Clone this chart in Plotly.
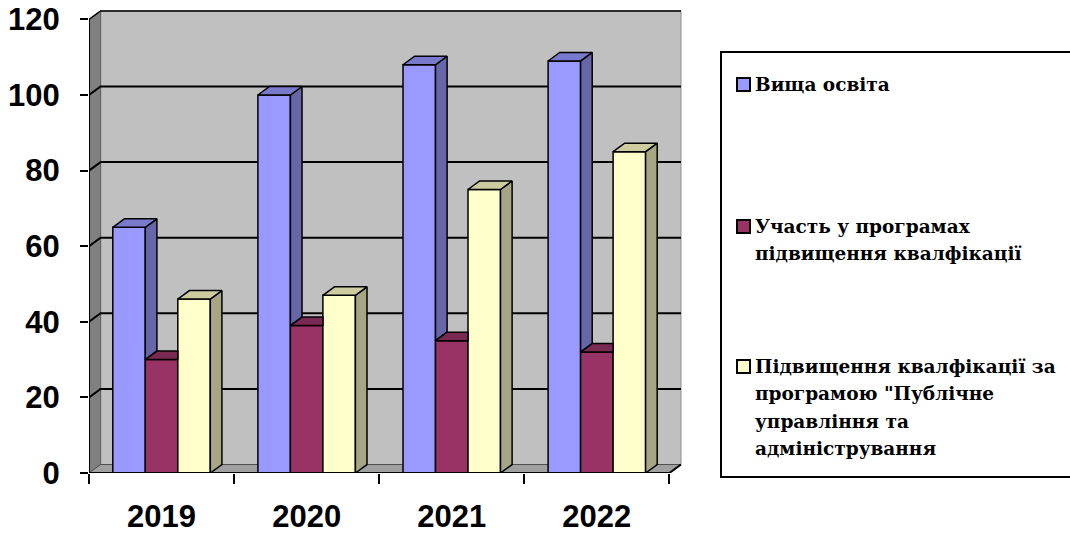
import plotly.graph_objects as go

# ---------------- data ----------------
years = ["2019", "2020", "2021", "2022"]
series_names = [
    "Вища освіта",
    "Участь у програмах<br>підвищення квалфікації",
    "Підвищення квалфікації за<br>програмою \"Публічне<br>управління та<br>адміністрування",
]
higher_edu = [65, 100, 108, 109]
training_part = [30, 39, 35, 32]
public_admin = [46, 47, 75, 85]
y_ticks = [0, 20, 40, 60, 80, 100, 120]

# ---------------- style ----------------
front_cols = ["#9999FF", "#993366", "#FFFFCC"]
side_cols = ["#6666A8", "#6B2447", "#A6A684"]
top_cols = ["#7A7ACC", "#7A2952", "#CCCCA0"]
W = 0.224          # bar width (category units)
DX = 0.08          # depth offset in x (category units)
DY = 2.25          # depth offset in y (value units)
YMAX = 120
X0, X1 = -0.5, 3.5
L, R, T, B = 89, 386, 10, 60
PW = 1070 - L - R
PH = 533 - T - B
XR = [-0.5, -0.5 + PW / 145.1]
YR = [0, PH / 3.78]
SANS = "Liberation Sans, Arial, sans-serif"
SERIF = "DejaVu Serif"

values = [higher_edu, training_part, public_admin]
xs = list(range(len(years)))

fig = go.Figure()

# front faces
for j, vals in enumerate(values):
    fig.add_trace(go.Bar(
        x=xs, y=vals, width=W, offset=(j - 1.5) * W,
        marker=dict(color=front_cols[j], line=dict(color="black", width=1.5)),
        showlegend=False, hoverinfo="skip", name=series_names[j].replace("<br>", " "),
    ))

# side and top faces (pseudo-3D)
for j, vals in enumerate(values):
    sx, sy, tx, ty = [], [], [], []
    for i, v in enumerate(vals):
        xl = i + (j - 1.5) * W
        xr = xl + W
        vn = values[j + 1][i] if j < len(values) - 1 else None
        lo = 0 if vn is None else vn
        if lo < v:
            sx += [xr, xr + DX, xr + DX, xr, xr, None]
            sy += [lo, lo + DY, v + DY, v, lo, None]
        if vn is not None and vn > v:
            tx += [xl, xr, xr, xl + DX, xl, None]
            ty += [v, v, v + DY, v + DY, v, None]
        else:
            tx += [xl, xr, xr + DX, xl + DX, xl, None]
            ty += [v, v, v + DY, v + DY, v, None]
    fig.add_trace(go.Scatter(x=sx, y=sy, mode="lines", fill="toself",
                             fillcolor=side_cols[j], line=dict(color="black", width=1.5),
                             showlegend=False, hoverinfo="skip"))
    fig.add_trace(go.Scatter(x=tx, y=ty, mode="lines", fill="toself",
                             fillcolor=top_cols[j], line=dict(color="black", width=1.5),
                             showlegend=False, hoverinfo="skip"))

shapes = []
# back wall
shapes.append(dict(type="rect", xref="x", yref="y", x0=X0 + DX, x1=X1 + DX, y0=DY, y1=YMAX + DY,
                   fillcolor="#C0C0C0", line=dict(color="#909090", width=1), layer="below"))
# left wall
shapes.append(dict(type="path", xref="x", yref="y",
                   path=f"M {X0},0 L {X0+DX},{DY} L {X0+DX},{YMAX+DY} L {X0},{YMAX} Z",
                   fillcolor="#808080", line=dict(color="#606060", width=1), layer="below"))
# floor
shapes.append(dict(type="path", xref="x", yref="y",
                   path=f"M {X0},0 L {X1},0 L {X1+DX},{DY} L {X0+DX},{DY} Z",
                   fillcolor="#A0A0A0", line=dict(color="#505050", width=1), layer="below"))
# gridlines on walls
for t in y_ticks[1:-1]:
    shapes.append(dict(type="path", xref="x", yref="y",
                       path=f"M {X0},{t} L {X0+DX},{t+DY} L {X1+DX},{t+DY}",
                       line=dict(color="black", width=2), layer="below"))
# top edges of walls
shapes.append(dict(type="path", xref="x", yref="y",
                   path=f"M {X0},{YMAX} L {X0+DX},{YMAX+DY} L {X1+DX},{YMAX+DY}",
                   line=dict(color="black", width=1.5), layer="below"))
# front axis lines
shapes.append(dict(type="line", xref="x", yref="y", x0=X0, x1=X0, y0=0, y1=YMAX,
                   line=dict(color="black", width=2), layer="above"))
shapes.append(dict(type="path", xref="x", yref="y",
                   path=f"M {X0},0 L {X1},0 L {X1+DX},{DY}",
                   line=dict(color="black", width=2), layer="above"))

# legend (manual, pixel positions converted to paper coordinates)
def px(xp):
    return (xp - L) / PW

def py(yp):
    return (T + PH - yp) / PH

shapes.append(dict(type="rect", xref="paper", yref="paper",
                   x0=px(721), x1=px(1075), y0=py(477), y1=py(52),
                   line=dict(color="black", width=2), fillcolor="white", layer="above"))
leg_first_line_y = [84.5, 226.5, 366.5]
leg_line_step = 27.3
annotations = []
for j in range(3):
    my = leg_first_line_y[j]
    shapes.append(dict(type="rect", xref="paper", yref="paper",
                       x0=px(737), x1=px(750), y0=py(my + 6.5), y1=py(my - 6.5),
                       fillcolor=front_cols[j], line=dict(color="black", width=2), layer="above"))
    for k, line in enumerate(series_names[j].split("<br>")):
        annotations.append(dict(xref="paper", yref="paper", x=px(753), y=py(my + k * leg_line_step),
                                xanchor="left", yanchor="middle", align="left", showarrow=False,
                                text="<b>" + line + "</b>",
                                font=dict(family=SERIF, size=18.5, color="black")))

fig.update_layout(
    width=1070, height=533,
    margin=dict(l=L, r=R, t=T, b=B, pad=0),
    plot_bgcolor="white", paper_bgcolor="white",
    barmode="overlay",
    shapes=shapes, annotations=annotations,
    showlegend=False,
    xaxis=dict(range=XR, tickmode="array", tickvals=xs, ticktext=years, ticks="",
               showgrid=False, zeroline=False, showline=False, automargin=False,
               tickfont=dict(family=SANS, size=31, color="black", weight="bold"),
               ticklabelstandoff=22,
               minor=dict(tickmode="array", tickvals=[-0.5, 0.5, 1.5, 2.5, 3.5], ticks="outside",
                          ticklen=10, tickwidth=2, tickcolor="black", showgrid=False)),
    yaxis=dict(range=YR, tickmode="array", tickvals=y_ticks, ticks="outside", ticklen=8,
               tickwidth=2, tickcolor="black", showgrid=False, zeroline=False, showline=False,
               automargin=False,
               tickfont=dict(family=SANS, size=31, color="black", weight="bold"),
               ticklabelstandoff=14),
)

fig.write_html("out.html")
